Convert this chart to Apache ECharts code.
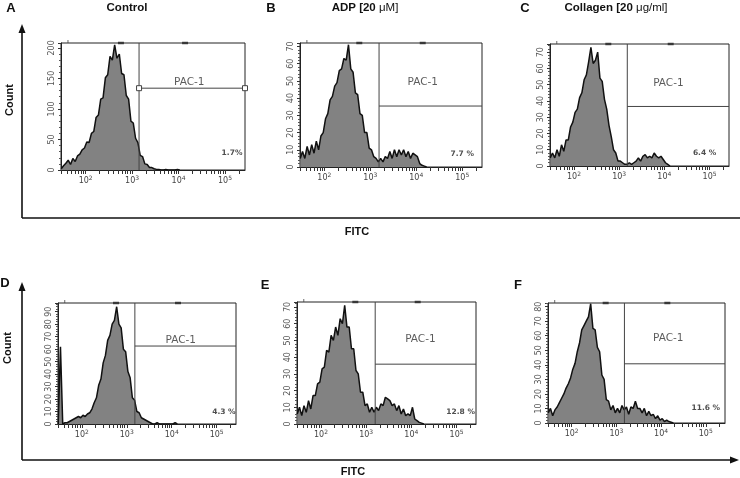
<!DOCTYPE html>
<html><head><meta charset="utf-8">
<script src="https://cdn.jsdelivr.net/npm/echarts@6/dist/echarts.min.js"></script>
<style>html,body{margin:0;padding:0;background:#fff}#c{width:740px;height:478px}</style>
</head><body><div id="c"></div>
<script>
// ---- data (counts per FITC bin, bins of 0.05 decade starting at 10^1.45) ----
const panelLetters = ['A', 'B', 'C', 'D', 'E', 'F'];
const panelTitles = ['Control', 'ADP [20 ', 'Collagen [20 ', '', '', ''];
const panelTitleUnits = ['', 'μM]', 'μg/ml]', '', '', ''];
const countsA = [2, 7, 11, 16, 9, 19, 14, 23, 26, 33, 36, 46, 45, 60, 63, 86, 90, 116, 118, 151, 156, 186, 180, 205, 183, 190, 158, 156, 122, 116, 80, 77, 52, 45, 24, 22, 10, 9, 4, 4, 2, 1, 1, 0, 0, 1, 0, 0, 0, 0, 1, 0];
const countsB = [5, 9, 5, 12, 7, 13, 8, 15, 10, 18, 20, 28, 31, 39, 41, 47, 49, 56, 57, 63, 62, 71, 57, 55, 43, 42, 31, 30, 20, 20, 11, 10, 6, 5, 3, 5, 3, 6, 5, 9, 5, 10, 6, 10, 7, 10, 6, 9, 5, 8, 7, 6, 2, 1, 0.5, 0];
const countsC = [5, 8, 5, 10, 6, 13, 9, 16, 16, 24, 27, 33, 35, 42, 45, 53, 56, 64, 73, 63, 65, 70, 54, 52, 41, 35, 25, 18, 10, 8, 3, 3, 2, 1, 1, 2, 1, 2, 3, 5, 3, 6, 7, 5, 6, 5, 8, 6, 5, 6, 4, 2, 1, 0];
const countsD = [0, 62, 0, 1, 1, 2, 3, 4, 5, 6, 5, 7, 6, 8, 9, 12, 17, 21, 31, 36, 49, 55, 67, 71, 80, 83, 94, 80, 77, 60, 58, 42, 37, 21, 19, 10, 9, 5, 4, 3, 2, 1, 0, 0, 1, 0, 0, 0, 0, 0, 0, 0, 1, 0];
const countsE = [6, 10, 5, 11, 7, 14, 9, 17, 17, 24, 25, 33, 34, 44, 43, 53, 50, 58, 53, 63, 60, 71, 58, 58, 45, 45, 32, 30, 19, 19, 11, 12, 7, 10, 7, 10, 8, 12, 11, 16, 15, 14, 11, 12, 8, 11, 6, 9, 5, 6, 5, 10, 3, 2, 1, 0.5, 0];
const countsF = [7, 10, 5, 9, 11, 14, 17, 20, 24, 27, 31, 37, 41, 49, 55, 64, 67, 70, 73, 82, 65, 64, 52, 49, 33, 30, 16, 15, 9, 12, 7, 10, 7, 12, 9, 11, 6, 11, 10, 15, 10, 10, 7, 10, 5, 8, 5, 6, 3, 5, 2, 3, 1, 2, 1, 0.5, 0];
const allCounts = [countsA, countsB, countsC, countsD, countsE, countsF];
const binStart = 1.45, binWidth = 0.05;       // log10(FITC)
const decadeLabels = [2, 3, 4, 5];
const xMin = 1.47, xMax = 5.43;
const yMax = [208, 72, 75, 97, 73, 82.5];
const yStep = [50, 10, 10, 10, 10, 10];
const gateFitc = [3.15, 3.19, 3.18, 3.18, 3.2, 3.18];
const gateCount = [134, 35.4, 36.6, 62.5, 35.8, 40.7];
const gateName = 'PAC-1';
const percentLabels = ['1.7%', '7.7 %', '6.4 %', '4.3 %', '12.8 %', '11.6 %'];
const pacX = [4.23, 4.14, 4.09, 4.2, 4.2, 4.16];
const pacY = [143, 49, 51, 67, 51, 58.5];
const pctX = [5.15, 5.0, 4.89, 5.16, 5.09, 5.0];
const pctY = [28, 7.6, 7.8, 9.6, 7.2, 10.5];
const topMarks = [2.76, 4.14];
const topTick = 1.62;

// ---- layout ----
const grids = [
  {left: 61, top: 43, width: 184, height: 127},
  {left: 300, top: 43, width: 182, height: 124},
  {left: 550, top: 44, width: 179, height: 122},
  {left: 58, top: 303, width: 178, height: 121},
  {left: 297, top: 302, width: 179, height: 122},
  {left: 548, top: 303, width: 177, height: 120}
];
const tickVals = [];
for (let n = 1; n <= 5; n++) for (let k = 1; k <= 9; k++) {
  const v = Math.log10(k * Math.pow(10, n));
  if (v >= xMin && v <= xMax) tickVals.push(v);
}
const PF = 'DejaVu Sans';
const AF = 'Liberation Sans';

const option = {
  animation: false,
  textStyle: {fontFamily: PF},
  grid: grids.map(g => Object.assign({show: true, borderColor: '#222', borderWidth: 1, backgroundColor: 'transparent'}, g)),
  xAxis: grids.map((g, i) => ({
    type: 'value', gridIndex: i, min: xMin, max: xMax,
    axisLine: {show: true, onZero: false, lineStyle: {color: '#222', width: 1}},
    axisTick: {show: true, customValues: tickVals, length: 4, lineStyle: {color: '#333'}},
    axisLabel: {
      customValues: decadeLabels, margin: 5,
      formatter: v => '{b|10}{s|' + v + '}',
      rich: {
        b: {fontSize: 8, color: '#444', fontFamily: PF, lineHeight: 12},
        s: {fontSize: 6, color: '#444', fontFamily: PF, verticalAlign: 'top', lineHeight: 12, padding: [0, 0, 5, 0]}
      }
    },
    splitLine: {show: false}
  })),
  yAxis: grids.map((g, i) => ({
    type: 'value', gridIndex: i, min: 0, max: yMax[i], interval: yStep[i],
    axisLine: {show: true, lineStyle: {color: '#222'}},
    axisTick: {show: true, length: 3, lineStyle: {color: '#333'}},
    minorTick: {show: true, splitNumber: 5, length: 2, lineStyle: {color: '#555'}},
    axisLabel: {rotate: 90, fontSize: 8, color: '#555', margin: 5, showMaxLabel: false, fontFamily: PF},
    splitLine: {show: false}
  })),
  series: [],
  graphic: []
};

allCounts.forEach((counts, i) => {
  option.series.push({
    type: 'line', xAxisIndex: i, yAxisIndex: i, symbol: 'none', z: 2,
    data: counts.map((c, j) => [binStart + (j + 0.5) * binWidth, c]),
    lineStyle: {color: '#111', width: 1.5},
    areaStyle: {color: '#828282', opacity: 1}
  });
  option.series.push({
    type: 'line', xAxisIndex: i, yAxisIndex: i, symbol: 'none', z: 3,
    data: [[gateFitc[i], 0], [gateFitc[i], yMax[i]]],
    lineStyle: {color: '#444', width: 1}
  });
  option.series.push({
    type: 'line', xAxisIndex: i, yAxisIndex: i, z: 3, clip: false,
    symbol: i === 0 ? 'rect' : 'none', symbolSize: 5, showSymbol: i === 0,
    itemStyle: {color: '#fff', borderColor: '#444', borderWidth: 1},
    data: [[gateFitc[i], gateCount[i]], [xMax, gateCount[i]]],
    lineStyle: {color: '#444', width: 1}
  });
  option.series.push({
    type: 'scatter', xAxisIndex: i, yAxisIndex: i, symbolSize: 0, z: 4, clip: false,
    data: [
      {value: [pacX[i], pacY[i]], label: {show: true, position: 'inside', formatter: gateName, fontSize: 10.5, color: '#333', fontFamily: PF}},
      {value: [pctX[i], pctY[i]], label: {show: true, position: 'inside', formatter: percentLabels[i], fontSize: 7.5, fontWeight: 'bold', color: '#222', fontFamily: PF}}
    ]
  });
  option.series.push({
    type: 'scatter', xAxisIndex: i, yAxisIndex: i, z: 4, clip: false,
    symbol: 'rect', symbolSize: [6, 2.5], itemStyle: {color: '#222'},
    data: topMarks.map(m => [m, yMax[i]])
  });
  option.series.push({
    type: 'scatter', xAxisIndex: i, yAxisIndex: i, z: 4, clip: false,
    symbol: 'rect', symbolSize: [1, 3], symbolOffset: [0, -1.5], itemStyle: {color: '#444'},
    data: [[topTick, yMax[i]]]
  });
});

// ---- decorations: panel letters, titles, outer axes ----
const letterPos = [[11, 8], [271, 8], [525, 8], [5, 283], [265, 285], [518, 285]];
letterPos.forEach((p, i) => {
  option.graphic.push({type: 'text', x: p[0], y: p[1], style: {text: panelLetters[i], font: 'bold 13px ' + AF, fill: '#111', align: 'center', verticalAlign: 'middle'}});
});
const titlePos = [[127, 8], [365, 8], [616, 8]];
titlePos.forEach((p, i) => {
  option.graphic.push({type: 'text', x: p[0], y: p[1], style: {
    text: '{t|' + panelTitles[i] + '}' + (panelTitleUnits[i] ? '{u|' + panelTitleUnits[i] + '}' : ''),
    align: 'center', verticalAlign: 'middle',
    rich: {t: {font: 'bold 11.5px ' + AF, fill: '#111'}, u: {font: '11.5px ' + AF, fill: '#111'}}
  }});
});
function arrowV(x, y0, y1) {
  option.graphic.push({type: 'line', shape: {x1: x, y1: y0, x2: x, y2: y1 + 6}, style: {stroke: '#111', lineWidth: 1.6}});
  option.graphic.push({type: 'polygon', shape: {points: [[x, y1], [x - 3.5, y1 + 9], [x + 3.5, y1 + 9]]}, style: {fill: '#111'}});
}
arrowV(22, 218, 24);
arrowV(22, 460, 282);
option.graphic.push({type: 'line', shape: {x1: 22, y1: 218, x2: 740, y2: 218}, style: {stroke: '#111', lineWidth: 1.6}});
option.graphic.push({type: 'line', shape: {x1: 22, y1: 460, x2: 732, y2: 460}, style: {stroke: '#111', lineWidth: 1.6}});
option.graphic.push({type: 'polygon', shape: {points: [[739, 460], [730, 456.5], [730, 463.5]]}, style: {fill: '#111'}});
[[357, 232], [353, 472]].forEach(p => option.graphic.push({type: 'text', x: p[0], y: p[1], style: {text: 'FITC', font: 'bold 11px ' + AF, fill: '#111', align: 'center', verticalAlign: 'middle'}}));
[[10, 100], [8, 348]].forEach(p => option.graphic.push({type: 'text', x: p[0], y: p[1], rotation: Math.PI / 2, style: {text: 'Count', font: 'bold 11px ' + AF, fill: '#111', align: 'center', verticalAlign: 'middle'}}));

const chart = echarts.init(document.getElementById('c'), null, {renderer: 'canvas'});
chart.setOption(option);
</script>
</body></html>
